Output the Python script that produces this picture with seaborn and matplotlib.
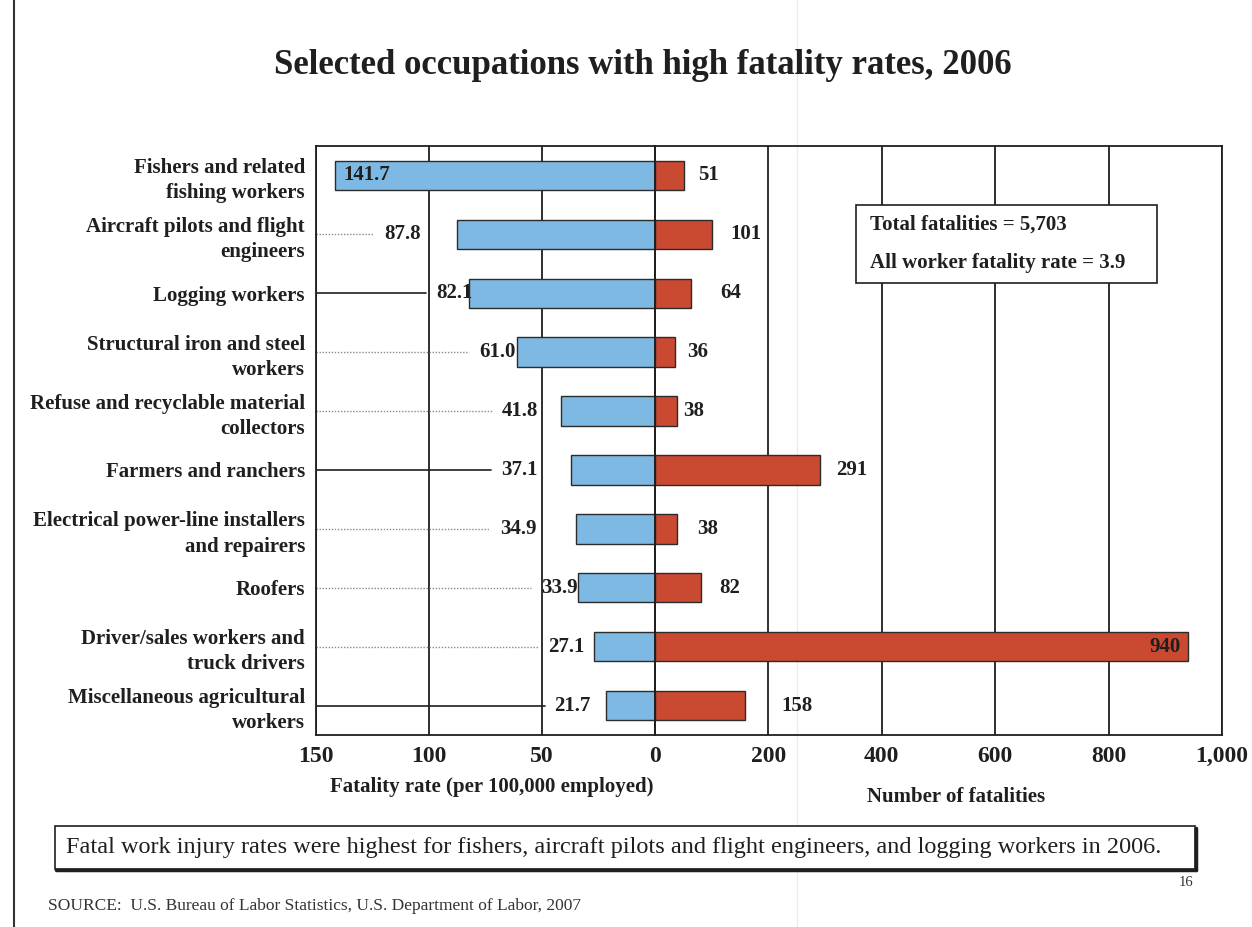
import matplotlib
matplotlib.use("Agg")
import matplotlib.pyplot as plt
from matplotlib.patches import Rectangle
from matplotlib.lines import Line2D
from matplotlib.transforms import offset_copy
import seaborn as sns
import pandas as pd

# ---- data ----
occupations = [
    "Fishers and related\nfishing workers",
    "Aircraft pilots and flight\nengineers",
    "Logging workers",
    "Structural iron and steel\nworkers",
    "Refuse and recyclable material\ncollectors",
    "Farmers and ranchers",
    "Electrical power-line installers\nand repairers",
    "Roofers",
    "Driver/sales workers and\ntruck drivers",
    "Miscellaneous agricultural\nworkers",
]
fatality_rate = [141.7, 87.8, 82.1, 61.0, 41.8, 37.1, 34.9, 33.9, 27.1, 21.7]
fatality_count = [51, 101, 64, 36, 38, 291, 38, 82, 940, 158]

rate_ticks = [150, 100, 50, 0]
count_ticks = [200, 400, 600, 800, 1000]
count_tick_labels = ["200", "400", "600", "800", "1,000"]

# label placement (pixels from the bar end) and leader-line styles
rate_label_gap = [-9, 36, -3, 2, 22, 34, 40, 1, 9, 15]
count_label_gap = [14, 18, 29, 12, 7, 16, 21, 18, -7, 37]
leader_style = [None, "dot", "solid", "dot", "dot", "solid", "dot", "dot", "dot", "solid"]

df = pd.DataFrame({"occupation": occupations,
                   "rate": fatality_rate,
                   "count": fatality_count})

sns.set_style("white")
plt.rcParams["font.family"] = ["Liberation Serif", "DejaVu Serif"]
plt.rcParams["font.weight"] = "bold"

BLUE = "#7db9e3"
RED = "#c94a30"
EDGE = "#2b2b2b"
INK = "#1f1f1f"

W, H = 1252, 927
fig = plt.figure(figsize=(W / 100, H / 100), dpi=100)
fig.patch.set_facecolor("white")

def fx(px):
    return px / W

def fy(py):
    return 1 - py / H

# faint crease running down the page, behind everything else
fig.lines.append(Line2D([fx(797), fx(797)], [0, 1], transform=fig.transFigure,
                        color="#ebebeb", lw=1.0, zorder=-5))

ax_l = fig.add_axes([fx(316), fy(735), fx(655 - 316), (735 - 146) / H])
ax_r = fig.add_axes([fx(655), fy(735), fx(1222 - 655), (735 - 146) / H])

sns.barplot(data=df, x="rate", y="occupation", ax=ax_l, color=BLUE,
            edgecolor=EDGE, linewidth=1.0, width=0.5, errorbar=None,
            saturation=1)
sns.barplot(data=df, x="count", y="occupation", ax=ax_r, color=RED,
            edgecolor=EDGE, linewidth=1.0, width=0.5, errorbar=None,
            saturation=1)

ax_l.set_xlim(150, 0)
ax_r.set_xlim(0, 1000)
for ax in (ax_l, ax_r):
    ax.patch.set_alpha(0)
    ax.set_ylim(len(occupations) - 0.5, -0.5)
    ax.set_xlabel("")
    ax.set_ylabel("")
    ax.set_axisbelow(True)
    ax.xaxis.grid(True, color=INK, linewidth=1.3)
    ax.yaxis.grid(False)
    for s in ax.spines.values():
        s.set_color(INK)
        s.set_linewidth(1.3)
    ax.tick_params(axis="x", length=0, pad=8, labelsize=17, labelcolor=INK)

ax_l.set_xticks(rate_ticks)
ax_l.set_xticklabels([str(t) for t in rate_ticks], fontweight="bold")
ax_r.set_xticks(count_ticks)
ax_r.set_xticklabels(count_tick_labels, fontweight="bold")

ax_l.tick_params(axis="y", length=0, pad=8)
for lab in ax_l.get_yticklabels():
    lab.set_fontsize(15)
    lab.set_fontweight("bold")
    lab.set_linespacing(1.35)
    lab.set_color(INK)
ax_r.set_yticks([])

# value labels
rate_texts = []
for i, (v, gap) in enumerate(zip(fatality_rate, rate_label_gap)):
    inside = gap < 0 and v > 100
    tr = offset_copy(ax_l.transData, fig=fig, x=-gap, y=0, units="dots")
    t = ax_l.text(v, i, f"{v:.1f}", transform=tr,
                  ha="left" if inside else "right", va="center",
                  fontsize=15, fontweight="bold", color=INK, zorder=5)
    rate_texts.append(t)

for i, (v, gap) in enumerate(zip(fatality_count, count_label_gap)):
    inside = gap < 0
    tr = offset_copy(ax_r.transData, fig=fig, x=gap, y=0, units="dots")
    ax_r.text(v, i, f"{v:,}", transform=tr,
              ha="right" if inside else "left", va="center",
              fontsize=15, fontweight="bold", color=INK, zorder=5)

# leader lines running from the axis edge to each rate label
fig.canvas.draw()
renderer = fig.canvas.get_renderer()
inv = ax_l.transData.inverted()
for i, (t, style) in enumerate(zip(rate_texts, leader_style)):
    if style is None:
        continue
    bb = t.get_window_extent(renderer)
    x_end = inv.transform((bb.x0 - 10, 0))[0]
    if style == "solid":
        ax_l.plot([150, x_end], [i, i], color=INK, lw=1.2, zorder=1)
    else:
        ax_l.plot([150, x_end], [i, i], color="#8a8a8a", lw=1.0,
                  linestyle=(0, (1, 1.2)), zorder=1)

# summary box inside the fatalities panel
box = Rectangle((0.3545, 0.767), 0.885 - 0.3545, 0.900 - 0.767,
                transform=ax_r.transAxes, facecolor="white",
                edgecolor=INK, linewidth=1.2, zorder=6)
ax_r.add_patch(box)
ax_r.text(0.379, 0.866, "Total fatalities = 5,703", transform=ax_r.transAxes,
          ha="left", va="center", fontsize=15, fontweight="bold",
          color=INK, zorder=7)
ax_r.text(0.379, 0.801, "All worker fatality rate = 3.9", transform=ax_r.transAxes,
          ha="left", va="center", fontsize=15, fontweight="bold",
          color=INK, zorder=7)

# title and axis captions
fig.text(fx(643), fy(65), "Selected occupations with high fatality rates, 2006",
         ha="center", va="center", fontsize=25, fontweight="bold", color=INK)
fig.text(fx(492), fy(787), "Fatality rate (per 100,000 employed)",
         ha="center", va="center", fontsize=15, fontweight="bold", color=INK)
fig.text(fx(956), fy(797), "Number of fatalities",
         ha="center", va="center", fontsize=15, fontweight="bold", color=INK)

# takeaway box with a drop-shadow edge
fig.patches.append(Rectangle((fx(55), fy(869)), fx(1195 - 55), (869 - 826) / H,
                             transform=fig.transFigure, facecolor="white",
                             edgecolor=INK, linewidth=1.2))
fig.lines.append(Line2D([fx(56), fx(1196)], [fy(870), fy(870)],
                        transform=fig.transFigure, color=INK, lw=2.5))
fig.lines.append(Line2D([fx(1196), fx(1196)], [fy(828), fy(870)],
                        transform=fig.transFigure, color=INK, lw=2.5))
fig.text(fx(66), fy(847),
         "Fatal work injury rates were highest for fishers, aircraft pilots and flight engineers, and logging workers in 2006.",
         ha="left", va="center", fontsize=17.5, fontweight="normal", color=INK)

fig.text(fx(1186), fy(883), "16", ha="center", va="center", fontsize=10.5,
         fontweight="normal", color="#333333")
fig.text(fx(48), fy(906),
         "SOURCE:  U.S. Bureau of Labor Statistics, U.S. Department of Labor, 2007",
         ha="left", va="center", fontsize=12.5, fontweight="normal", color="#333333")

# page edge on the left
fig.lines.append(Line2D([fx(14), fx(14)], [0, 1], transform=fig.transFigure,
                        color="#333333", lw=1.5))

fig.savefig("out.png", dpi=100, facecolor="white")
